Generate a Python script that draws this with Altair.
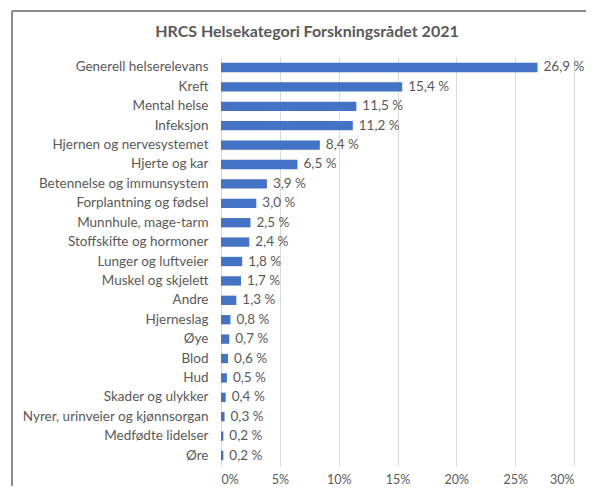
import altair as alt
import pandas as pd

categories = [
    "Generell helserelevans", "Kreft", "Mental helse", "Infeksjon",
    "Hjernen og nervesystemet", "Hjerte og kar", "Betennelse og immunsystem",
    "Forplantning og fødsel", "Munnhule, mage-tarm", "Stoffskifte og hormoner",
    "Lunger og luftveier", "Muskel og skjelett", "Andre", "Hjerneslag", "Øye",
    "Blod", "Hud", "Skader og ulykker", "Nyrer, urinveier og kjønnsorgan",
    "Medfødte lidelser", "Øre",
]
values = [26.9, 15.4, 11.5, 11.2, 8.4, 6.5, 3.9, 3.0, 2.5, 2.4, 1.8, 1.7, 1.3,
          0.8, 0.7, 0.6, 0.5, 0.4, 0.3, 0.2, 0.2]
x_ticks = [0, 0.05, 0.10, 0.15, 0.20, 0.25, 0.30]
title_text = "HRCS Helsekategori Forskningsrådet 2021"

df = pd.DataFrame({
    "kategori": categories,
    "andel": [v / 100 for v in values],
    "etikett": [f"{v:.1f}".replace(".", ",") + " %" for v in values],
})

FONT = "Lato"
TXT = "#595959"

y_enc = alt.Y("kategori:N", sort=categories, title=None,
              scale=alt.Scale(paddingInner=0.52, paddingOuter=0.3),
              axis=alt.Axis(domain=False, ticks=False, labelPadding=13,
                            labelLimit=300,
                            labelFontSize=13.5, labelColor=TXT, labelFont=FONT))
x_enc = alt.X("andel:Q", title=None,
              scale=alt.Scale(domain=[0, 0.30], nice=False),
              axis=alt.Axis(values=x_ticks, format=".0%", domain=False, ticks=False,
                            labelPadding=7, labelFontSize=12.5, labelColor=TXT,
                            labelFont=FONT, gridColor="#d9d9d9", grid=True))

bars = alt.Chart(df).mark_bar(color="#4472C4").encode(x=x_enc, y=y_enc)
labels = alt.Chart(df).mark_text(align="left", dx=6, fontSize=13.5, color=TXT,
                                 font=FONT).encode(
    x="andel:Q", y=alt.Y("kategori:N", sort=categories), text="etikett:N")

title = alt.Chart(pd.DataFrame({"t": [title_text]})).mark_text(
    align="center", baseline="middle", fontSize=16, fontWeight="bold",
    color=TXT, font=FONT).encode(x=alt.value(86), y=alt.value(-25), text="t:N")

frame_top = alt.Chart(df).mark_rule(color="#8c8c8c", strokeWidth=1.5).encode(
    x=alt.value(-209), x2=alt.value(400), y=alt.value(-46))
frame_left = alt.Chart(df).mark_rule(color="#8c8c8c", strokeWidth=1.5).encode(
    x=alt.value(-209), y=alt.value(-46), y2=alt.value(460))

chart = alt.layer(bars, labels, title, frame_top, frame_left).properties(
    width=353, height=409,
    autosize=alt.AutoSizeParams(type="none"),
    padding={"left": 213, "top": 49, "right": 12, "bottom": 20},
).configure_view(stroke=None)

chart.save("out.html", embed_options={"renderer": "svg", "actions": False})
